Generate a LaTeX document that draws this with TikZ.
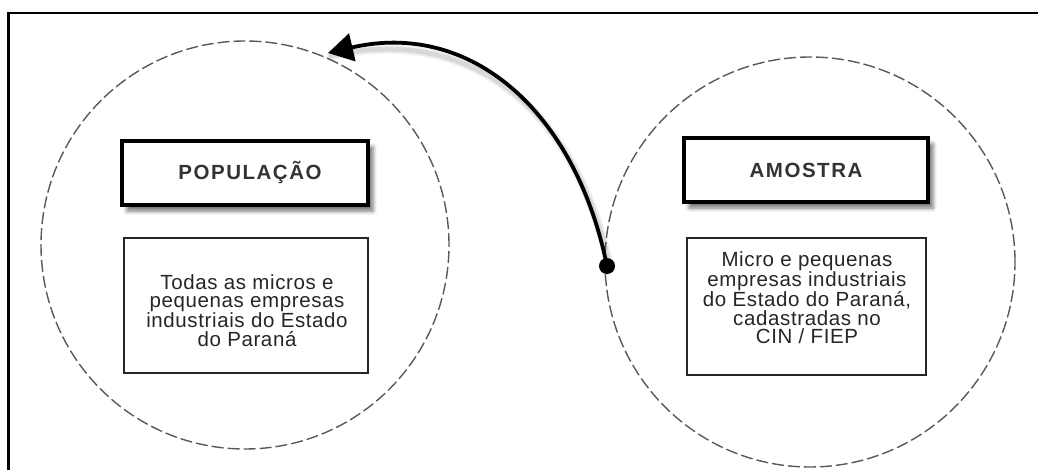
\documentclass[tikz,border=0pt]{standalone}
\usepackage{fontspec}
\setmainfont{Liberation Sans}
\newfontfamily\boxfont{Liberation Sans}[LetterSpace=3]
\newfontfamily\headfont{Liberation Sans}[LetterSpace=7.5]
\usetikzlibrary{arrows.meta,shadows.blur}

\begin{document}
\begin{tikzpicture}[x=1pt,y=-1pt,
  frame/.style={line width=2.5pt},
  ring/.style={circle, draw=black!65, line width=1.4pt,
    dash pattern=on 12pt off 4pt, inner sep=0pt},
  titlebox/.style={rectangle, draw=black, line width=3.5pt, fill=white,
    inner sep=0pt, text=black!80,
    font=\headfont\fontsize{20.5}{22}\selectfont\bfseries,
    blur shadow={shadow xshift=5pt, shadow yshift=-6pt,
      shadow blur radius=4pt, shadow opacity=55}},
  textbox/.style={rectangle, draw=black!85, line width=1.5pt, fill=white,
    inner sep=0pt},
  boxtext/.style={align=center, inner sep=0pt, text=black!85,
    font=\boxfont\fontsize{20.5}{18.5}\selectfont},
  dot/.style={circle, fill=black, inner sep=0pt, minimum size=16pt},
  link/.style={line width=3.8pt, -{Triangle[length=25pt,width=28pt]}},
  linkshadow/.style={line width=5pt, draw=black, opacity=0.10, line cap=round}
]
\useasboundingbox (0,0) rectangle (1038,470);

% outer frame (top and left edges)
\draw[frame] (8.5,470) -- (8.5,13) -- (1038,13);

% population and sample circles
\node[ring, minimum size=408pt] (popring) at (245,245) {};
\node[ring, minimum size=410pt] (amoring) at (810,262) {};

% titles
\node[titlebox, minimum width=246pt, minimum height=64pt] (pop) at (245,173) {\hspace*{10pt}POPULAÇÃO};
\node[titlebox, minimum width=244pt, minimum height=64pt] (amo) at (806,170) {AMOSTRA};

% description boxes
\node[textbox, minimum width=244pt, minimum height=135pt] (popbox) at (246,305.5) {};
\node[textbox, minimum width=239pt, minimum height=137pt] (amobox) at (806.5,306.5) {};

\node[boxtext, anchor=north] (poptext) at (247,274)
  {Todas as micros e\\pequenas empresas\\industriais do Estado\\do Paraná};
\node[boxtext, anchor=north] (amotext) at (807,251)
  {Micro e pequenas\\empresas industriais\\do Estado do Paraná,\\cadastradas no\\CIN / FIEP};

% arrow from the sample back to the population
\coordinate (tip) at (328,53);
\node[dot] (src) at (607,266) {};
\begin{scope}[transform canvas={shift={(3pt,-3pt)}}]
  \draw[linkshadow] (src.center) .. controls (575,110) and (470,20) .. (tip);
  \draw[linkshadow, line width=9pt, opacity=0.06] (src.center) .. controls (575,110) and (470,20) .. (tip);
\end{scope}
\draw[link] (src.center) .. controls (575,110) and (470,20) .. (tip);
\end{tikzpicture}
\end{document}
